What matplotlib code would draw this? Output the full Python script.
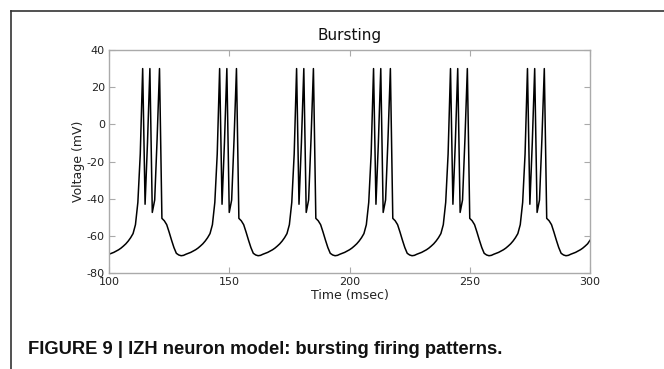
import matplotlib
matplotlib.use("Agg")
import matplotlib.pyplot as plt
from matplotlib.lines import Line2D
import numpy as np

plt.rcParams["axes.unicode_minus"] = False

# time axis (msec), one sample per ms
time_ms = np.arange(100, 301)

# membrane voltage (mV), one value per ms
voltage_mv = [
    # 100 - 131
    -69.9, -69.4, -68.9, -68.2, -67.5, -66.6, -65.5, -64.3, -62.8, -61.0,
    -58.8, -54.0, -42.0, -16.0, 30.0, -43.0, -10.0, 30.0, -47.4, -40.7,
    -8.0, 30.0, -50.6, -51.9, -54.0, -58.0, -62.3, -66.3, -69.4, -70.3,
    -70.7, -70.5,
    # 132 - 163
    -69.9, -69.4, -68.9, -68.2, -67.5, -66.6, -65.5, -64.3, -62.8, -61.0,
    -58.8, -54.0, -42.0, -16.0, 30.0, -43.0, -10.0, 30.0, -47.4, -40.7,
    -8.0, 30.0, -50.6, -51.9, -54.0, -58.0, -62.3, -66.3, -69.4, -70.3,
    -70.7, -70.5,
    # 164 - 195
    -69.9, -69.4, -68.9, -68.2, -67.5, -66.6, -65.5, -64.3, -62.8, -61.0,
    -58.8, -54.0, -42.0, -16.0, 30.0, -43.0, -10.0, 30.0, -47.4, -40.7,
    -8.0, 30.0, -50.6, -51.9, -54.0, -58.0, -62.3, -66.3, -69.4, -70.3,
    -70.7, -70.5,
    # 196 - 227
    -69.9, -69.4, -68.9, -68.2, -67.5, -66.6, -65.5, -64.3, -62.8, -61.0,
    -58.8, -54.0, -42.0, -16.0, 30.0, -43.0, -10.0, 30.0, -47.4, -40.7,
    -8.0, 30.0, -50.6, -51.9, -54.0, -58.0, -62.3, -66.3, -69.4, -70.3,
    -70.7, -70.5,
    # 228 - 259
    -69.9, -69.4, -68.9, -68.2, -67.5, -66.6, -65.5, -64.3, -62.8, -61.0,
    -58.8, -54.0, -42.0, -16.0, 30.0, -43.0, -10.0, 30.0, -47.4, -40.7,
    -8.0, 30.0, -50.6, -51.9, -54.0, -58.0, -62.3, -66.3, -69.4, -70.3,
    -70.7, -70.5,
    # 260 - 291
    -69.9, -69.4, -68.9, -68.2, -67.5, -66.6, -65.5, -64.3, -62.8, -61.0,
    -58.8, -54.0, -42.0, -16.0, 30.0, -43.0, -10.0, 30.0, -47.4, -40.7,
    -8.0, 30.0, -50.6, -51.9, -54.0, -58.0, -62.3, -66.3, -69.4, -70.3,
    -70.7, -70.5,
    # 292 - 300
    -69.9, -69.4, -68.9, -68.2, -67.5, -66.6, -65.5, -64.3, -62.4,
]

x_ticks = [100, 150, 200, 250, 300]
y_ticks = [-80, -60, -40, -20, 0, 20, 40]

title = "Bursting"
x_label = "Time (msec)"
y_label = "Voltage (mV)"
caption = "FIGURE 9 | IZH neuron model: bursting firing patterns."

W, H = 664, 369
fig = plt.figure(figsize=(W / 100, H / 100), dpi=100)

# page frame: top and left rules
fig.add_artist(Line2D([10.5 / W, 1.0], [1 - 11 / H, 1 - 11 / H], color="#333333", lw=1.2))
fig.add_artist(Line2D([10.5 / W, 10.5 / W], [0.0, 1 - 11 / H], color="#333333", lw=1.2))

ax = fig.add_axes([109 / W, 1 - 273 / H, (590 - 109) / W, (273 - 50) / H])
ax.plot(time_ms, voltage_mv, color="black", lw=1.1)

ax.set_xlim(100, 300)
ax.set_ylim(-80, 40)
ax.set_xticks(x_ticks)
ax.set_yticks(y_ticks)
ax.tick_params(direction="in", top=True, right=True, length=4, width=0.8,
               color="#aaaaaa", labelsize=8, labelcolor="#222222", pad=3)
for s in ax.spines.values():
    s.set_color("#aaaaaa")
    s.set_linewidth(1.0)

ax.set_title(title, fontsize=11, color="#111111", pad=7)
ax.set_xlabel(x_label, fontsize=9, color="#222222", labelpad=1)
ax.set_ylabel(y_label, fontsize=9, color="#222222", labelpad=1)

fig.text(28 / W, 1 - 350 / H, caption, fontsize=13.2, fontweight="bold",
         family=["Liberation Sans Narrow", "Liberation Sans", "DejaVu Sans"],
         va="center", ha="left", color="#111111")

fig.savefig("out.png", dpi=100)
